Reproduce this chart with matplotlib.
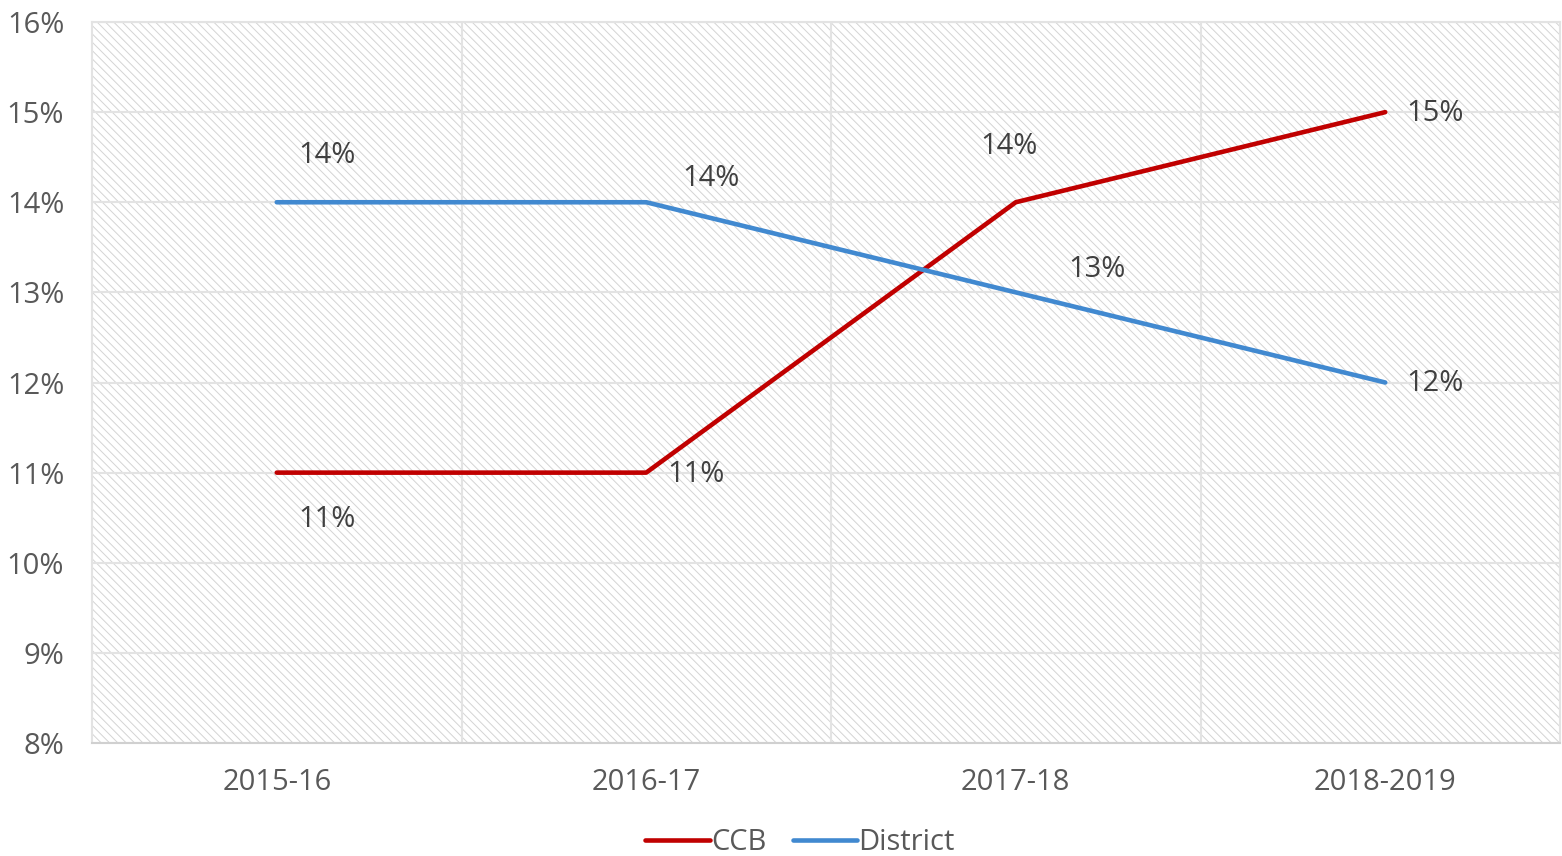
import matplotlib
matplotlib.use("Agg")
import matplotlib.pyplot as plt
from matplotlib.ticker import FuncFormatter, MultipleLocator

categories = ["2015-16", "2016-17", "2017-18", "2018-2019"]
ccb = [11, 11, 14, 15]
district = [14, 14, 13, 12]

ccb_offsets = [(50, -47), (50, -2), (-7, 56), (50, -1)]
district_offsets = [(50, 47), (65, 24), (81, 23), (50, -1)]

plt.rcParams['font.family'] = ['Open Sans', 'DejaVu Sans']
plt.rcParams['hatch.color'] = '#d4d4d4'
plt.rcParams['hatch.linewidth'] = 0.7

fig = plt.figure(figsize=(15.62, 8.56), dpi=100)
ax = fig.add_axes([92/1562, 1-743/856, (1560-92)/1562, (743-22)/856])

ax.patch.set_facecolor('white')
ax.patch.set_hatch('\\\\\\\\')
ax.patch.set_edgecolor('#d4d4d4')

x = list(range(len(categories)))
red = '#C00000'
blue = '#4189D0'
ax.plot(x, ccb, color=red, lw=3.3, solid_capstyle='round', solid_joinstyle='round', label='CCB', zorder=3)
ax.plot(x, district, color=blue, lw=3.3, solid_capstyle='round', solid_joinstyle='round', label='District', zorder=3)

lab_color = '#404040'
fs = 21
for xi, v, off in zip(x, ccb, ccb_offsets):
    ax.annotate(f"{v}%", (xi, v), xytext=off, textcoords='offset pixels',
                ha='center', va='center', fontsize=fs, color=lab_color, zorder=4)
for xi, v, off in zip(x, district, district_offsets):
    ax.annotate(f"{v}%", (xi, v), xytext=off, textcoords='offset pixels',
                ha='center', va='center', fontsize=fs, color=lab_color, zorder=4)

ax.set_ylim(8, 16)
ax.set_xlim(-0.5, 3.5 - 10/369.5)
ax.yaxis.set_major_locator(MultipleLocator(1))
ax.yaxis.set_major_formatter(FuncFormatter(lambda v, p: f"{int(round(v))}%"))
ax.set_xticks(x)
ax.set_xticklabels(categories)
ax.set_xticks([0.5, 1.5, 2.5], minor=True)

ax.grid(axis='y', which='major', color='#e3e3e3', lw=1.5, zorder=1)
ax.grid(axis='x', which='minor', color='#e3e3e3', lw=1.5, zorder=1)
ax.set_axisbelow(True)

for s in ['top', 'right', 'left']:
    ax.spines[s].set_color('#e3e3e3')
    ax.spines[s].set_linewidth(1.5)
ax.spines['bottom'].set_color('#d0d0d0')
ax.spines['bottom'].set_linewidth(1.5)

ax.tick_params(axis='both', which='both', length=0, labelsize=fs, colors='#595959')
ax.tick_params(axis='y', pad=20)
ax.tick_params(axis='x', pad=18)

leg = fig.legend(loc='center', bbox_to_anchor=(800/1562, 1-843/856), ncol=2, frameon=False,
                 fontsize=fs, handlelength=2.2, handletextpad=0.05, columnspacing=0.9)
for t in leg.get_texts():
    t.set_color('#595959')

fig.savefig('out.png', dpi=100)
